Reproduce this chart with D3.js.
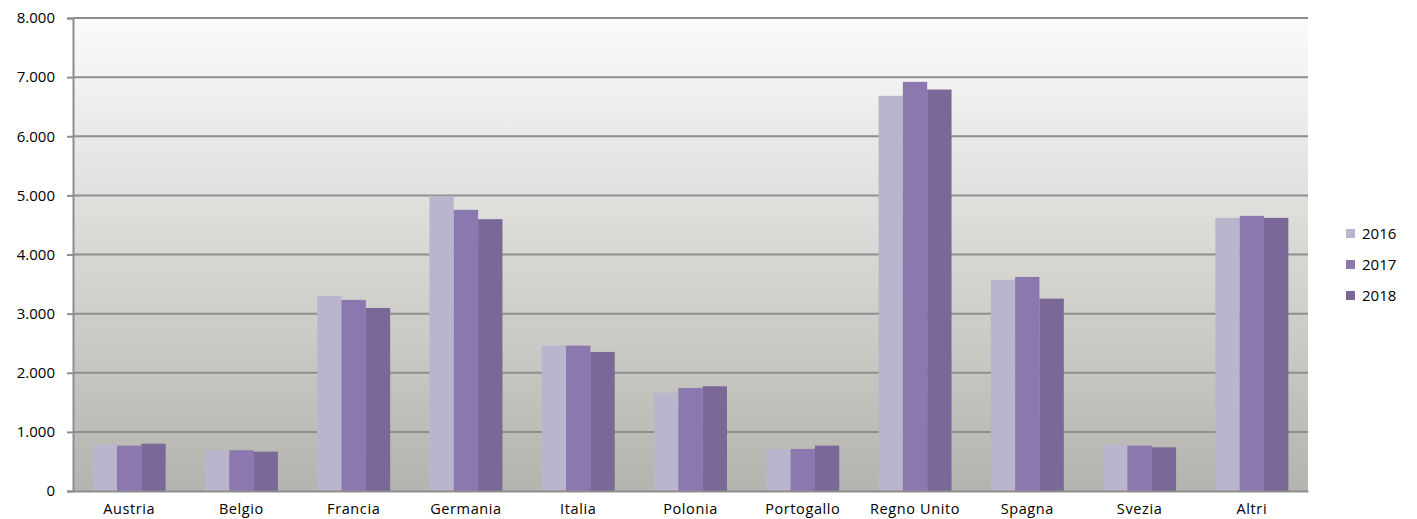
<!DOCTYPE html>
<html>
<head>
<meta charset="utf-8">
<script src="https://cdn.jsdelivr.net/npm/d3@7/dist/d3.min.js"></script>
<style>
  body { margin: 0; background: #fff; }
  svg { display: block; }
  svg text { font-family: "Open Sans", "DejaVu Sans", sans-serif; fill: #000; }
</style>
</head>
<body>
<div id="chart"></div>
<script>
const countries = ["Austria", "Belgio", "Francia", "Germania", "Italia", "Polonia",
  "Portogallo", "Regno Unito", "Spagna", "Svezia", "Altri"];
const years = ["2016", "2017", "2018"];
const values2016 = [790, 689, 3299, 4992, 2459, 1663, 711, 6684, 3570, 790, 4619];
const values2017 = [767, 689, 3232, 4755, 2459, 1743, 711, 6920, 3621, 767, 4653];
const values2018 = [800, 665, 3096, 4597, 2352, 1771, 767, 6790, 3254, 739, 4619];
const yTicks = [0, 1000, 2000, 3000, 4000, 5000, 6000, 7000, 8000];
const colors = ["#bab5cc", "#8a78ae", "#7a6898"];

const series = [values2016, values2017, values2018];
const width = 1417, height = 519;
const margin = { top: 18, right: 109, bottom: 28, left: 73 };

const svg = d3.select("#chart").append("svg")
  .attr("width", width).attr("height", height);

const defs = svg.append("defs");
const grad = defs.append("linearGradient").attr("id", "bg")
  .attr("x1", 0).attr("y1", 0).attr("x2", 0).attr("y2", 1);
grad.append("stop").attr("offset", "0%").attr("stop-color", "#fbfbfb");
grad.append("stop").attr("offset", "100%").attr("stop-color", "#b4b3ad");

const x0 = d3.scaleBand().domain(countries)
  .range([margin.left, width - margin.right]).paddingInner(0.35).paddingOuter(0.175);
const x1 = d3.scaleBand().domain(years).range([0, x0.bandwidth()]);
const y = d3.scaleLinear().domain([0, 8000]).range([height - margin.bottom, margin.top]);

svg.append("rect")
  .attr("x", margin.left).attr("y", margin.top)
  .attr("width", width - margin.right - margin.left)
  .attr("height", y(0) - margin.top)
  .attr("fill", "url(#bg)");

// gridlines
svg.append("g")
  .selectAll("line")
  .data(yTicks.filter((t) => t > 0))
  .join("line")
  .attr("x1", margin.left).attr("x2", width - margin.right)
  .attr("y1", (d) => y(d)).attr("y2", (d) => y(d))
  .attr("stroke", "#8e8e8e").attr("stroke-width", 2);

// bars
svg.append("g")
  .selectAll("g")
  .data(countries)
  .join("g")
  .attr("transform", (d) => `translate(${x0(d)},0)`)
  .selectAll("rect")
  .data((d, i) => years.map((yr, k) => ({ yr, v: series[k][i], k })))
  .join("rect")
  .attr("x", (d) => x1(d.yr))
  .attr("width", x1.bandwidth())
  .attr("y", (d) => y(d.v))
  .attr("height", (d) => y(0) - y(d.v))
  .attr("fill", (d) => colors[d.k]);

// y axis
const yAxis = svg.append("g")
  .attr("transform", `translate(${margin.left},0)`)
  .call(d3.axisLeft(y).tickValues(yTicks).tickSize(6).tickPadding(12)
    .tickFormat((d) => d === 0 ? "0" : d3.format(",")(d).replace(/,/g, ".")));
yAxis.attr("font-family", null).attr("font-size", 15);
yAxis.select(".domain").attr("stroke", "#8e8e8e").attr("stroke-width", 2);
yAxis.selectAll(".tick line").attr("stroke", "#8e8e8e").attr("stroke-width", 2);

// x axis
const xAxis = svg.append("g")
  .attr("transform", `translate(0,${y(0)})`)
  .call(d3.axisBottom(x0).tickSize(0).tickPadding(13));
xAxis.attr("font-family", null).attr("font-size", 14.5);
xAxis.selectAll("text").attr("letter-spacing", 0.6);
xAxis.select(".domain").attr("stroke", "#8e8e8e").attr("stroke-width", 2);

// legend
const legend = svg.append("g")
  .selectAll("g")
  .data(years)
  .join("g")
  .attr("transform", (d, i) => `translate(1346,${229 + i * 31})`);
legend.append("rect").attr("width", 9).attr("height", 9)
  .attr("fill", (d, i) => colors[i]);
legend.append("text").attr("x", 16).attr("y", 10)
  .attr("font-size", 15).text((d) => d);
</script>
</body>
</html>
